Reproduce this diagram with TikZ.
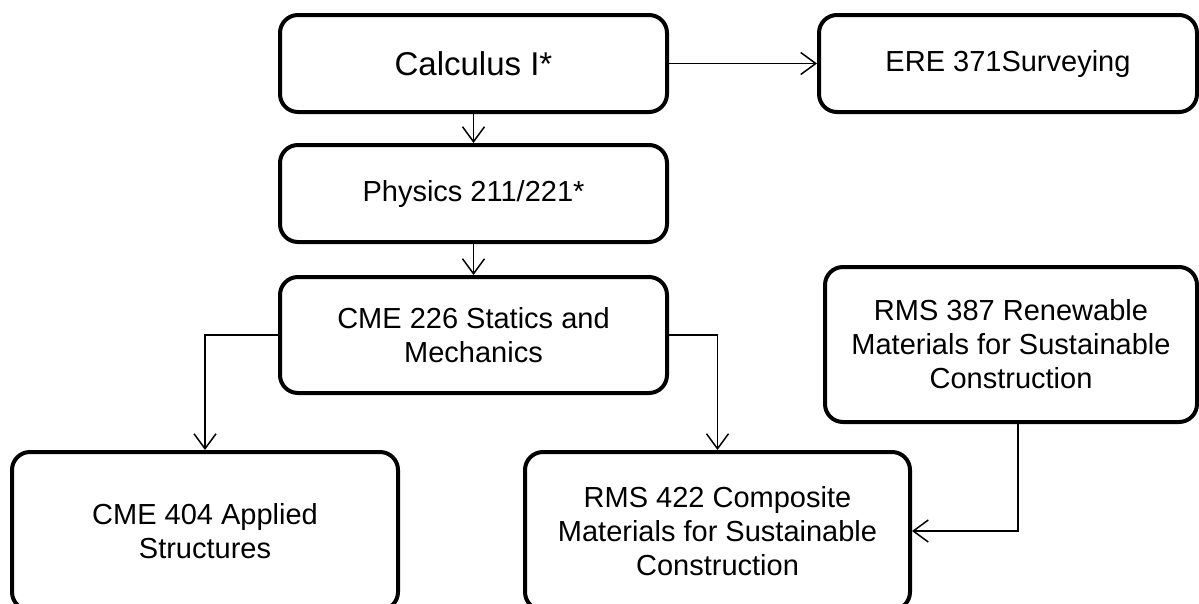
\documentclass[tikz,border=0pt]{standalone}
\usepackage{fontspec}
\setmainfont{Liberation Sans}
\usetikzlibrary{arrows.meta}

\begin{document}
\begin{tikzpicture}[x=1pt,y=-1pt,
  course/.style={draw,line width=4pt,rounded corners=18pt,align=center,inner sep=0pt,font=\fontsize{29}{34}\selectfont},
  link/.style={line width=1.5pt,-{Straight Barb[length=15pt,width=22pt,line width=1.5pt]}}]
\useasboundingbox (0,0) rectangle (1199,603);
\node[course,minimum width=387,minimum height=97,font=\fontsize{33}{38}\selectfont] (calc) at (473.5,63.5) {Calculus I*};
\node[course,minimum width=378,minimum height=97] (ere) at (1008,63.5) {ERE 371Surveying};
\node[course,minimum width=387,minimum height=97] (phys) at (473.5,193.5) {Physics 211/221*};
\node[course,minimum width=387,minimum height=116] (cme226) at (473.5,335) {CME 226 Statics and\\Mechanics};
\node[course,minimum width=372,minimum height=155] (rms387) at (1011,344.5) {RMS 387 Renewable\\Materials for Sustainable\\Construction};
\node[course,minimum width=386,minimum height=158] (cme404) at (205,531) {CME 404 Applied\\Structures};
\node[course,minimum width=385,minimum height=158] (rms422) at (717.5,531) {RMS 422 Composite\\Materials for Sustainable\\Construction};
\draw[link] (calc) -- (phys);
\draw[link] (calc) -- (ere);
\draw[link] (phys) -- (cme226);
\draw[link] (cme226.west) -| (cme404.north);
\draw[link] (cme226.east) -| (rms422.north);
\draw[link] ([xshift=7pt]rms387.south) |- (rms422.east);
\end{tikzpicture}
\end{document}
